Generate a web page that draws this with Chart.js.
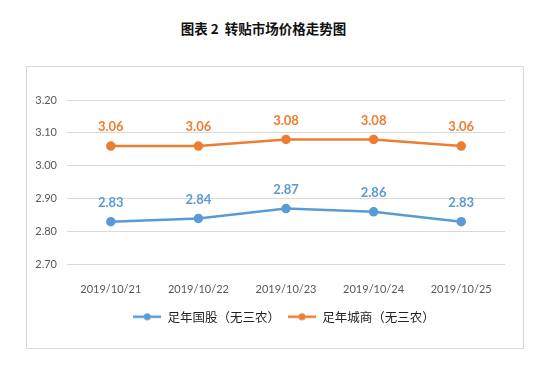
<!DOCTYPE html>
<html>
<head>
<meta charset="utf-8">
<script src="https://cdn.jsdelivr.net/npm/chart.js@4"></script>
<style>
  body { margin: 0; background: #fff; width: 547px; height: 367px; position: relative; overflow: hidden; }
  #title { position: absolute; left: 0; top: 18px; width: 527px; text-align: center;
           font: bold 13.5px "Noto Sans CJK SC", sans-serif; color: #111; }
  #box { position: absolute; left: 26px; top: 66px; width: 496px; height: 281px; border: 1px solid #d9d9d9; }
  canvas { display: block; }
</style>
</head>
<body>
<div id="title">图表 2&nbsp; 转贴市场价格走势图</div>
<div id="box"><canvas id="chart" width="496" height="281"></canvas></div>
<script>
const dates = ["2019/10/21", "2019/10/22", "2019/10/23", "2019/10/24", "2019/10/25"]
const guogu = [2.83, 2.84, 2.87, 2.86, 2.83]
const chengshang = [3.06, 3.06, 3.08, 3.08, 3.06]
const seriesNames = ["足年国股（无三农）", "足年城商（无三农）"]
const yTicks = [2.70, 2.80, 2.90, 3.00, 3.10, 3.20]

const blue = "#5b9bd5"
const orange = "#ed7d31"

// legend marker: short line with a dot in the middle
function lineMarker(color) {
    const c = document.createElement("canvas")
    c.width = 28
    c.height = 10
    const g = c.getContext("2d")
    g.strokeStyle = color
    g.lineWidth = 2.5
    g.beginPath()
    g.moveTo(0, 5)
    g.lineTo(28, 5)
    g.stroke()
    g.fillStyle = color
    g.beginPath()
    g.arc(14, 5, 3.5, 0, Math.PI * 2)
    g.fill()
    return c
}

const valueLabels = {
    id: "valueLabels",
    afterDatasetsDraw(chart) {
        const ctx = chart.ctx
        ctx.save()
        ctx.font = "bold 13px Lato, sans-serif"
        ctx.textAlign = "center"
        ctx.textBaseline = "middle"
        chart.data.datasets.forEach((ds, i) => {
            const meta = chart.getDatasetMeta(i)
            ctx.fillStyle = ds.borderColor
            meta.data.forEach((pt, j) => {
                ctx.fillText(ds.data[j].toFixed(2), pt.x, pt.y - 19)
            })
        })
        ctx.restore()
    }
}

// legend in the reference sits a bit right of centre
const legendShift = {
    id: "legendShift",
    afterLayout(chart) {
        chart.legend.left += 18
        chart.legend.right += 18
    }
}

new Chart(document.getElementById("chart"), {
    type: "line",
    data: {
        labels: dates,
        datasets: [
            { label: seriesNames[0], data: guogu, borderColor: blue, backgroundColor: blue,
              borderWidth: 2.5, pointRadius: 3.5, pointHoverRadius: 3.5, pointStyle: "circle" },
            { label: seriesNames[1], data: chengshang, borderColor: orange, backgroundColor: orange,
              borderWidth: 2.5, pointRadius: 3.5, pointHoverRadius: 3.5, pointStyle: "circle" }
        ]
    },
    options: {
        responsive: false,
        animation: false,
        layout: { padding: { top: 33, right: 18, bottom: 15, left: 0 } },
        plugins: {
            tooltip: { enabled: false },
            legend: {
                position: "bottom",
                labels: {
                    usePointStyle: true,
                    pointStyleWidth: 28,
                    boxHeight: 10,
                    padding: 8,
                    color: "#222",
                    font: { family: "'Noto Sans CJK SC'", size: 12.5 },
                    generateLabels(chart) {
                        return chart.data.datasets.map((ds, i) => ({
                            text: ds.label,
                            pointStyle: lineMarker(ds.borderColor),
                            fillStyle: ds.borderColor,
                            strokeStyle: ds.borderColor,
                            lineWidth: 0,
                            hidden: false,
                            datasetIndex: i,
                            fontColor: "#222"
                        }))
                    }
                }
            }
        },
        scales: {
            x: {
                offset: true,
                grid: { display: false },
                border: { display: false },
                ticks: { color: "#595959", padding: 10, font: { family: "Lato", size: 11 } },
                afterFit(scale) { scale.height = 38 }
            },
            y: {
                min: 2.7,
                max: 3.2,
                afterBuildTicks(scale) { scale.ticks = yTicks.map(v => ({ value: v })) },
                grid: { color: "#d9d9d9", lineWidth: 1, drawTicks: false },
                border: { display: false },
                ticks: { color: "#595959", padding: 10, font: { family: "Lato", size: 11 },
                         callback: v => v.toFixed(2) },
                afterFit(scale) { scale.width = 40 }
            }
        }
    },
    plugins: [valueLabels, legendShift]
})
</script>
</body>
</html>
